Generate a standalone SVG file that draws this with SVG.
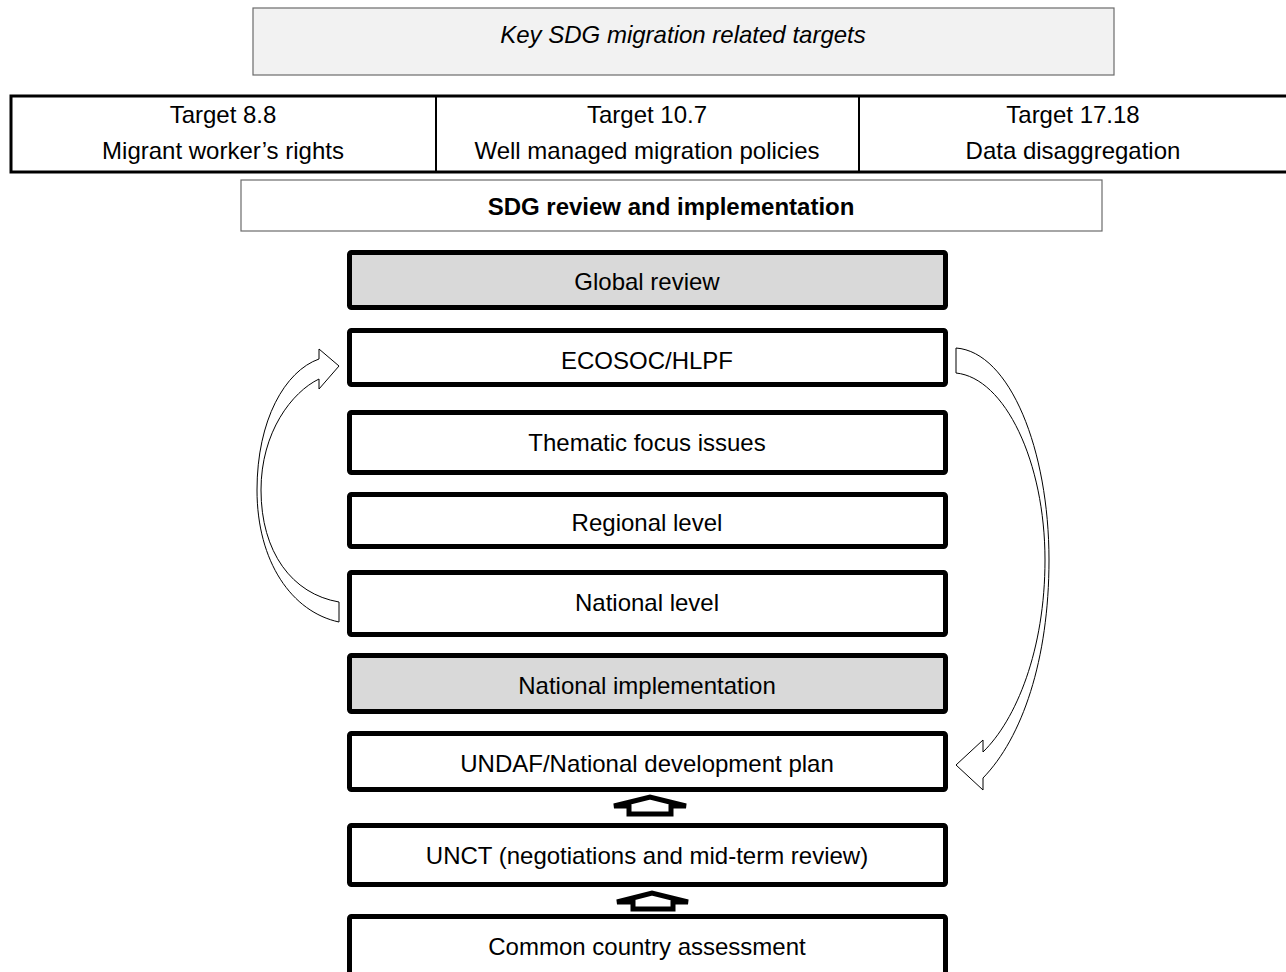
<svg xmlns="http://www.w3.org/2000/svg" width="1286" height="972" viewBox="0 0 1286 972">
<style>
text{font-family:"Liberation Sans",Arial,sans-serif;font-size:24px;fill:#000;text-anchor:middle}
.hdr{fill:#f2f2f2;stroke:#6b6b6b;stroke-width:1.2}
.sub{fill:#fff;stroke:#6b6b6b;stroke-width:1.2}
.tbl{fill:#fff;stroke:#000;stroke-width:3}
.st{fill:#fff;stroke:#000;stroke-width:5}
.gr{fill:#d9d9d9}
.carrow{fill:#fff;stroke:#000;stroke-width:1}
.barrow{fill:#fff;stroke:#000;stroke-width:5;stroke-linejoin:miter}
</style>
<rect width="1286" height="972" fill="#fff"/>
<g id="header">
<rect class="hdr" x="253" y="8" width="861" height="67"/>
<text x="683" y="43" font-style="italic">Key SDG migration related targets</text>
</g>
<g id="targets">
<rect class="tbl" x="11" y="96" width="1290" height="76"/>
<line x1="436" y1="96" x2="436" y2="172" stroke="#000" stroke-width="2"/>
<line x1="859" y1="96" x2="859" y2="172" stroke="#000" stroke-width="2"/>
</g>
<g id="t88"><text x="223" y="123">Target 8.8</text><text x="223" y="159">Migrant worker’s rights</text></g>
<g id="t107"><text x="647" y="123">Target 10.7</text><text x="647" y="159">Well managed migration policies</text></g>
<g id="t1718"><text x="1073" y="123">Target 17.18</text><text x="1073" y="159">Data disaggregation</text></g>
<g id="sdg">
<rect class="sub" x="241" y="180" width="861" height="51"/>
<text x="671" y="215" font-weight="bold">SDG review and implementation</text>
</g>
<g id="global"><rect class="st gr" x="349.5" y="252.5" width="596" height="55" rx="2"/><text x="647" y="290">Global review</text></g>
<g id="ecosoc"><rect class="st" x="349.5" y="330.5" width="596" height="54" rx="2"/><text x="647" y="369">ECOSOC/HLPF</text></g>
<g id="thematic"><rect class="st" x="349.5" y="412.5" width="596" height="60" rx="2"/><text x="647" y="451">Thematic focus issues</text></g>
<g id="regional"><rect class="st" x="349.5" y="494.5" width="596" height="52" rx="2"/><text x="647" y="531">Regional level</text></g>
<g id="national"><rect class="st" x="349.5" y="572.5" width="596" height="62" rx="2"/><text x="647" y="611">National level</text></g>
<g id="natimpl"><rect class="st gr" x="349.5" y="655.5" width="596" height="56" rx="2"/><text x="647" y="694">National implementation</text></g>
<g id="undaf"><rect class="st" x="349.5" y="733.5" width="596" height="56" rx="2"/><text x="647" y="772">UNDAF/National development plan</text></g>
<g id="unct"><rect class="st" x="349.5" y="825.5" width="596" height="59" rx="2"/><text x="647" y="864">UNCT (negotiations and mid-term review)</text></g>
<g id="cca"><rect class="st" x="349.5" y="916.5" width="596" height="70" rx="2"/><text x="647" y="955">Common country assessment</text></g>
<g id="connectors">
<path class="carrow" d="M339,622 C292,612 257,562 257,490 C257,420 285,371 319,359 L319,349 L339,366 L319,389 L319,379 C292,392 261,432 261,490 C261,552 292,594 339,602 Z"/>
<path class="carrow" d="M956,348 C1010,352 1049,450 1049,560 C1049,660 1022,738 983,778 L983,790 L956,765 L983,740 L983,752 C1016,720 1045,650 1045,560 C1045,462 1005,378 956,373 Z"/>
<path class="barrow" d="M614,806 L650,797 L686,806 L671,806 L671,814 L629,814 L629,806 Z"/>
<path class="barrow" d="M617,902 L652,893 L688,902 L673,902 L673,909 L633,909 L633,902 Z"/>
</g>
</svg>
